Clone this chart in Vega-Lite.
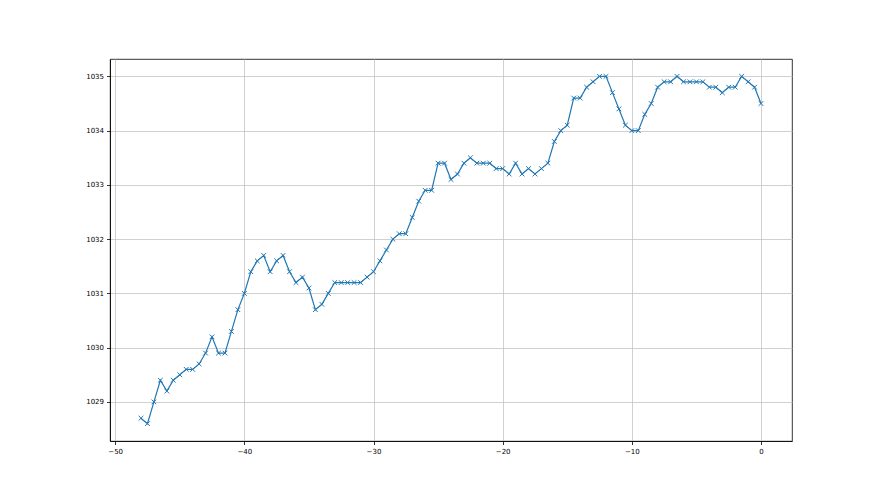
{
  "$schema": "https://vega.github.io/schema/vega-lite/v6.json",
  "width": 682,
  "height": 382,
  "autosize": "none",
  "padding": {"left": 110, "top": 59, "right": 88, "bottom": 54},
  "background": "white",
  "config": {
    "view": {"stroke": "#000000", "strokeWidth": 0.8},
    "axis": {
      "labelFont": "DejaVu Sans",
      "labelFontSize": 7,
      "labelColor": "#000000",
      "tickColor": "#000000",
      "tickSize": 3.5,
      "tickWidth": 0.8,
      "domainColor": "#000000",
      "domainWidth": 0.8,
      "gridColor": "#c4c4c4",
      "gridWidth": 0.8,
      "gridOpacity": 1,
      "labelPadding": 3,
      "title": null
    }
  },
  "data": {
    "values": [
      {"x": -48, "y": 1028.7}, {"x": -47.5, "y": 1028.6}, {"x": -47, "y": 1029.0}, {"x": -46.5, "y": 1029.4},
      {"x": -46, "y": 1029.2}, {"x": -45.5, "y": 1029.4}, {"x": -45, "y": 1029.5}, {"x": -44.5, "y": 1029.6},
      {"x": -44, "y": 1029.6}, {"x": -43.5, "y": 1029.7}, {"x": -43, "y": 1029.9}, {"x": -42.5, "y": 1030.2},
      {"x": -42, "y": 1029.9}, {"x": -41.5, "y": 1029.9}, {"x": -41, "y": 1030.3}, {"x": -40.5, "y": 1030.7},
      {"x": -40, "y": 1031.0}, {"x": -39.5, "y": 1031.4}, {"x": -39, "y": 1031.6}, {"x": -38.5, "y": 1031.7},
      {"x": -38, "y": 1031.4}, {"x": -37.5, "y": 1031.6}, {"x": -37, "y": 1031.7}, {"x": -36.5, "y": 1031.4},
      {"x": -36, "y": 1031.2}, {"x": -35.5, "y": 1031.3}, {"x": -35, "y": 1031.1}, {"x": -34.5, "y": 1030.7},
      {"x": -34, "y": 1030.8}, {"x": -33.5, "y": 1031.0}, {"x": -33, "y": 1031.2}, {"x": -32.5, "y": 1031.2},
      {"x": -32, "y": 1031.2}, {"x": -31.5, "y": 1031.2}, {"x": -31, "y": 1031.2}, {"x": -30.5, "y": 1031.3},
      {"x": -30, "y": 1031.4}, {"x": -29.5, "y": 1031.6}, {"x": -29, "y": 1031.8}, {"x": -28.5, "y": 1032.0},
      {"x": -28, "y": 1032.1}, {"x": -27.5, "y": 1032.1}, {"x": -27, "y": 1032.4}, {"x": -26.5, "y": 1032.7},
      {"x": -26, "y": 1032.9}, {"x": -25.5, "y": 1032.9}, {"x": -25, "y": 1033.4}, {"x": -24.5, "y": 1033.4},
      {"x": -24, "y": 1033.1}, {"x": -23.5, "y": 1033.2}, {"x": -23, "y": 1033.4}, {"x": -22.5, "y": 1033.5},
      {"x": -22, "y": 1033.4}, {"x": -21.5, "y": 1033.4}, {"x": -21, "y": 1033.4}, {"x": -20.5, "y": 1033.3},
      {"x": -20, "y": 1033.3}, {"x": -19.5, "y": 1033.2}, {"x": -19, "y": 1033.4}, {"x": -18.5, "y": 1033.2},
      {"x": -18, "y": 1033.3}, {"x": -17.5, "y": 1033.2}, {"x": -17, "y": 1033.3}, {"x": -16.5, "y": 1033.4},
      {"x": -16, "y": 1033.8}, {"x": -15.5, "y": 1034.0}, {"x": -15, "y": 1034.1}, {"x": -14.5, "y": 1034.6},
      {"x": -14, "y": 1034.6}, {"x": -13.5, "y": 1034.8}, {"x": -13, "y": 1034.9}, {"x": -12.5, "y": 1035.0},
      {"x": -12, "y": 1035.0}, {"x": -11.5, "y": 1034.7}, {"x": -11, "y": 1034.4}, {"x": -10.5, "y": 1034.1},
      {"x": -10, "y": 1034.0}, {"x": -9.5, "y": 1034.0}, {"x": -9, "y": 1034.3}, {"x": -8.5, "y": 1034.5},
      {"x": -8, "y": 1034.8}, {"x": -7.5, "y": 1034.9}, {"x": -7, "y": 1034.9}, {"x": -6.5, "y": 1035.0},
      {"x": -6, "y": 1034.9}, {"x": -5.5, "y": 1034.9}, {"x": -5, "y": 1034.9}, {"x": -4.5, "y": 1034.9},
      {"x": -4, "y": 1034.8}, {"x": -3.5, "y": 1034.8}, {"x": -3, "y": 1034.7}, {"x": -2.5, "y": 1034.8},
      {"x": -2, "y": 1034.8}, {"x": -1.5, "y": 1035.0}, {"x": -1, "y": 1034.9}, {"x": -0.5, "y": 1034.8},
      {"x": 0, "y": 1034.5}
    ]
  },
  "encoding": {
    "x": {
      "field": "x", "type": "quantitative",
      "scale": {"domain": [-50.4, 2.4], "nice": false, "zero": false},
      "axis": {"values": [-50, -40, -30, -20, -10, 0], "grid": true}
    },
    "y": {
      "field": "y", "type": "quantitative",
      "scale": {"domain": [1028.28, 1035.32], "nice": false, "zero": false},
      "axis": {"values": [1029, 1030, 1031, 1032, 1033, 1034, 1035], "grid": true, "format": "d"}
    }
  },
  "layer": [
    {"mark": {"type": "line", "color": "#1f77b4", "strokeWidth": 1.2}},
    {"mark": {"type": "point", "shape": "M-1,-1L1,1M-1,1L1,-1", "size": 22, "filled": false, "stroke": "#1f77b4", "strokeWidth": 1, "opacity": 1}}
  ]
}
